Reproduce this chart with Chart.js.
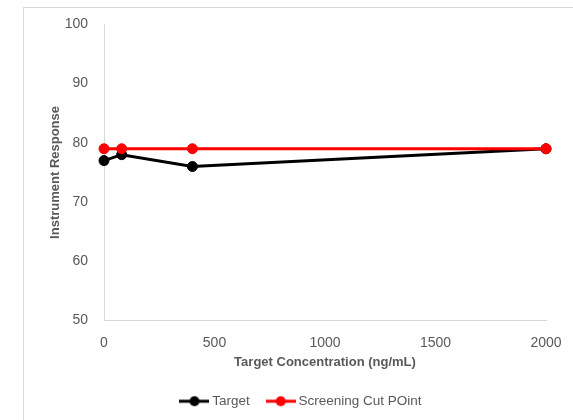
<!DOCTYPE html>
<html>
<head>
<meta charset="utf-8">
<script src="https://cdn.jsdelivr.net/npm/chart.js@4/dist/chart.umd.min.js"></script>
<style>
  html, body { margin: 0; padding: 0; background: #fff; }
  #wrap { position: relative; width: 573px; height: 420px; overflow: hidden; }
  #frame { position: absolute; left: 23px; top: 7px; width: 600px; height: 450px;
           border-left: 1px solid #d9d9d9; border-top: 1px solid #d9d9d9; }
  canvas { position: absolute; left: 0; top: 0; }
</style>
</head>
<body>
<div id="wrap">
  <div id="frame"></div>
  <canvas id="c" width="573" height="420"></canvas>
</div>
<script>
// Concentrations (ng/mL) and measured responses
const concentrations = [0, 80, 400, 2000];
const targetResponse = [77, 78, 76, 79];
const cutPointResponse = [79, 79, 79, 79];
const seriesNames = ['Target', 'Screening Cut POint'];
const seriesColors = ['#000000', '#ff0000'];

const font = "'Liberation Sans', 'Open Sans', sans-serif";

// Legend marker: short line with a dot in the middle
function legendMarker(color) {
  const c = document.createElement('canvas');
  c.width = 30; c.height = 12;
  const g = c.getContext('2d');
  g.strokeStyle = color; g.lineWidth = 3;
  g.beginPath(); g.moveTo(0, 6); g.lineTo(30, 6); g.stroke();
  g.fillStyle = color;
  g.beginPath(); g.arc(15, 6, 5, 0, Math.PI * 2); g.fill();
  return c;
}

// Centre the legend under the framed chart region rather than the canvas
const legendShift = {
  id: 'legendShift',
  afterLayout(chart) {
    const lg = chart.legend;
    if (lg) { lg.left += 17; lg.right += 17; }
  }
};

const toPoints = (ys) => concentrations.map((x, i) => ({ x: x, y: ys[i] }));

new Chart(document.getElementById('c'), {
  type: 'line',
  data: {
    datasets: [
      { label: seriesNames[0], data: toPoints(targetResponse), order: 1, clip: false,
        borderColor: seriesColors[0], backgroundColor: seriesColors[0],
        borderWidth: 3, pointRadius: 5, pointBorderWidth: 1, pointHoverRadius: 5, tension: 0 },
      { label: seriesNames[1], data: toPoints(cutPointResponse), order: 0, clip: false,
        borderColor: seriesColors[1], backgroundColor: seriesColors[1],
        borderWidth: 3, pointRadius: 5, pointBorderWidth: 1, pointHoverRadius: 5, tension: 0 }
    ]
  },
  options: {
    responsive: false,
    animation: false,
    layout: { padding: { left: 25, right: 27, top: 24, bottom: 2 } },
    scales: {
      x: {
        type: 'linear', min: 0, max: 2000,
        ticks: { stepSize: 500, color: '#595959', font: { family: font, size: 14 }, padding: 14,
                 callback: (v) => String(v) },
        grid: { display: false, drawTicks: false },
        border: { color: '#d9d9d9', width: 1 },
        title: { display: true, text: 'Target Concentration (ng/mL)', color: '#595959',
                 font: { family: font, size: 13, weight: 'bold' }, padding: { top: 0, bottom: 4 } },
        afterFit: (axis) => { axis.height = 54; axis.paddingRight = 0; axis.paddingLeft = 0; }
      },
      y: {
        min: 50, max: 100,
        ticks: { stepSize: 10, color: '#595959', font: { family: font, size: 14 }, padding: 16 },
        grid: { display: false, drawTicks: false },
        border: { color: '#d9d9d9', width: 1 },
        title: { display: true, text: 'Instrument Response', color: '#595959',
                 font: { family: font, size: 13, weight: 'bold' }, padding: { top: 23, bottom: 0 } },
        afterFit: (axis) => { axis.width = 79; }
      }
    },
    plugins: {
      tooltip: { enabled: false },
      legend: {
        position: 'bottom',
        labels: {
          color: '#595959', font: { family: font, size: 13.5 },
          usePointStyle: true, pointStyleWidth: 22, padding: 20,
          generateLabels: (chart) => chart.data.datasets.map((ds, i) => ({
            text: ds.label, fontColor: '#595959', hidden: false, datasetIndex: i,
            pointStyle: legendMarker(seriesColors[i]), lineWidth: 0,
            strokeStyle: seriesColors[i], fillStyle: seriesColors[i]
          }))
        }
      }
    }
  },
  plugins: [legendShift]
});
</script>
</body>
</html>
